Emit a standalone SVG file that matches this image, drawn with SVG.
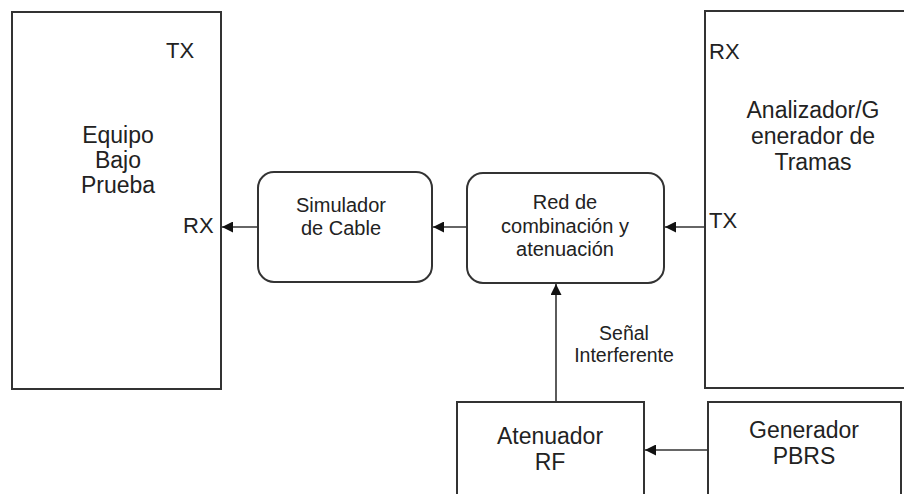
<svg xmlns="http://www.w3.org/2000/svg" width="904" height="494" viewBox="0 0 904 494">
<defs>
<style>
.box{fill:#fff;stroke:#333;stroke-width:2}
.t{font-family:"Liberation Sans",Arial,sans-serif;fill:#222;text-anchor:middle}
.big{font-size:23px}
.mid{font-size:20px}
.sm{font-size:19.5px}
.port{font-family:"Liberation Sans",Arial,sans-serif;fill:#222;font-size:22px}
.c{stroke:#333;stroke-width:1.6;fill:none}
</style>
<marker id="ah" viewBox="0 0 10 10" refX="10" refY="5" markerWidth="12" markerHeight="11" orient="auto" markerUnits="userSpaceOnUse">
<path d="M0,0 L10,5 L0,10 z" fill="#111"/>
</marker>
</defs>
<rect width="904" height="494" fill="#fff"/>
<g id="equipo">
<rect class="box" x="12" y="12" width="209" height="377"/>
<text class="port" x="166" y="58">TX</text>
<text class="port" x="183" y="233">RX</text>
<text class="t big" x="118" y="143">Equipo</text>
<text class="t big" x="118" y="168">Bajo</text>
<text class="t big" x="118" y="193">Prueba</text>
</g>
<g id="simulador">
<rect class="box" x="258" y="172" width="174" height="110" rx="16"/>
<text class="t mid" x="341" y="212">Simulador</text>
<text class="t mid" x="341" y="235">de Cable</text>
</g>
<g id="red">
<rect class="box" x="467" y="173" width="197" height="110" rx="16"/>
<text class="t mid" x="565" y="209">Red de</text>
<text class="t mid" x="565" y="233">combinación y</text>
<text class="t mid" x="565" y="256">atenuación</text>
</g>
<g id="analizador">
<rect class="box" x="705" y="11" width="220" height="377"/>
<text class="port" x="709" y="59">RX</text>
<text class="port" x="709" y="228">TX</text>
<text class="t big" x="813" y="118">Analizador/G</text>
<text class="t big" x="813" y="144">enerador de</text>
<text class="t big" x="813" y="170">Tramas</text>
</g>
<g id="atenuador">
<rect class="box" x="457" y="402" width="187" height="110"/>
<text class="t big" x="550" y="444">Atenuador</text>
<text class="t big" x="550" y="470">RF</text>
</g>
<g id="generador">
<rect class="box" x="708" y="402" width="193" height="110"/>
<text class="t big" x="804" y="438">Generador</text>
<text class="t big" x="804" y="464">PBRS</text>
</g>
<g id="connectors">
<line class="c" x1="258" y1="227" x2="222" y2="227" marker-end="url(#ah)"/>
<line class="c" x1="467" y1="227" x2="433" y2="227" marker-end="url(#ah)"/>
<line class="c" x1="705" y1="227" x2="665" y2="227" marker-end="url(#ah)"/>
<line class="c" x1="556" y1="402" x2="556" y2="284" marker-end="url(#ah)"/>
<line class="c" x1="708" y1="450" x2="645" y2="450" marker-end="url(#ah)"/>
<text class="t sm" x="624" y="340">Señal</text>
<text class="t sm" x="624" y="362">Interferente</text>
</g>
</svg>
